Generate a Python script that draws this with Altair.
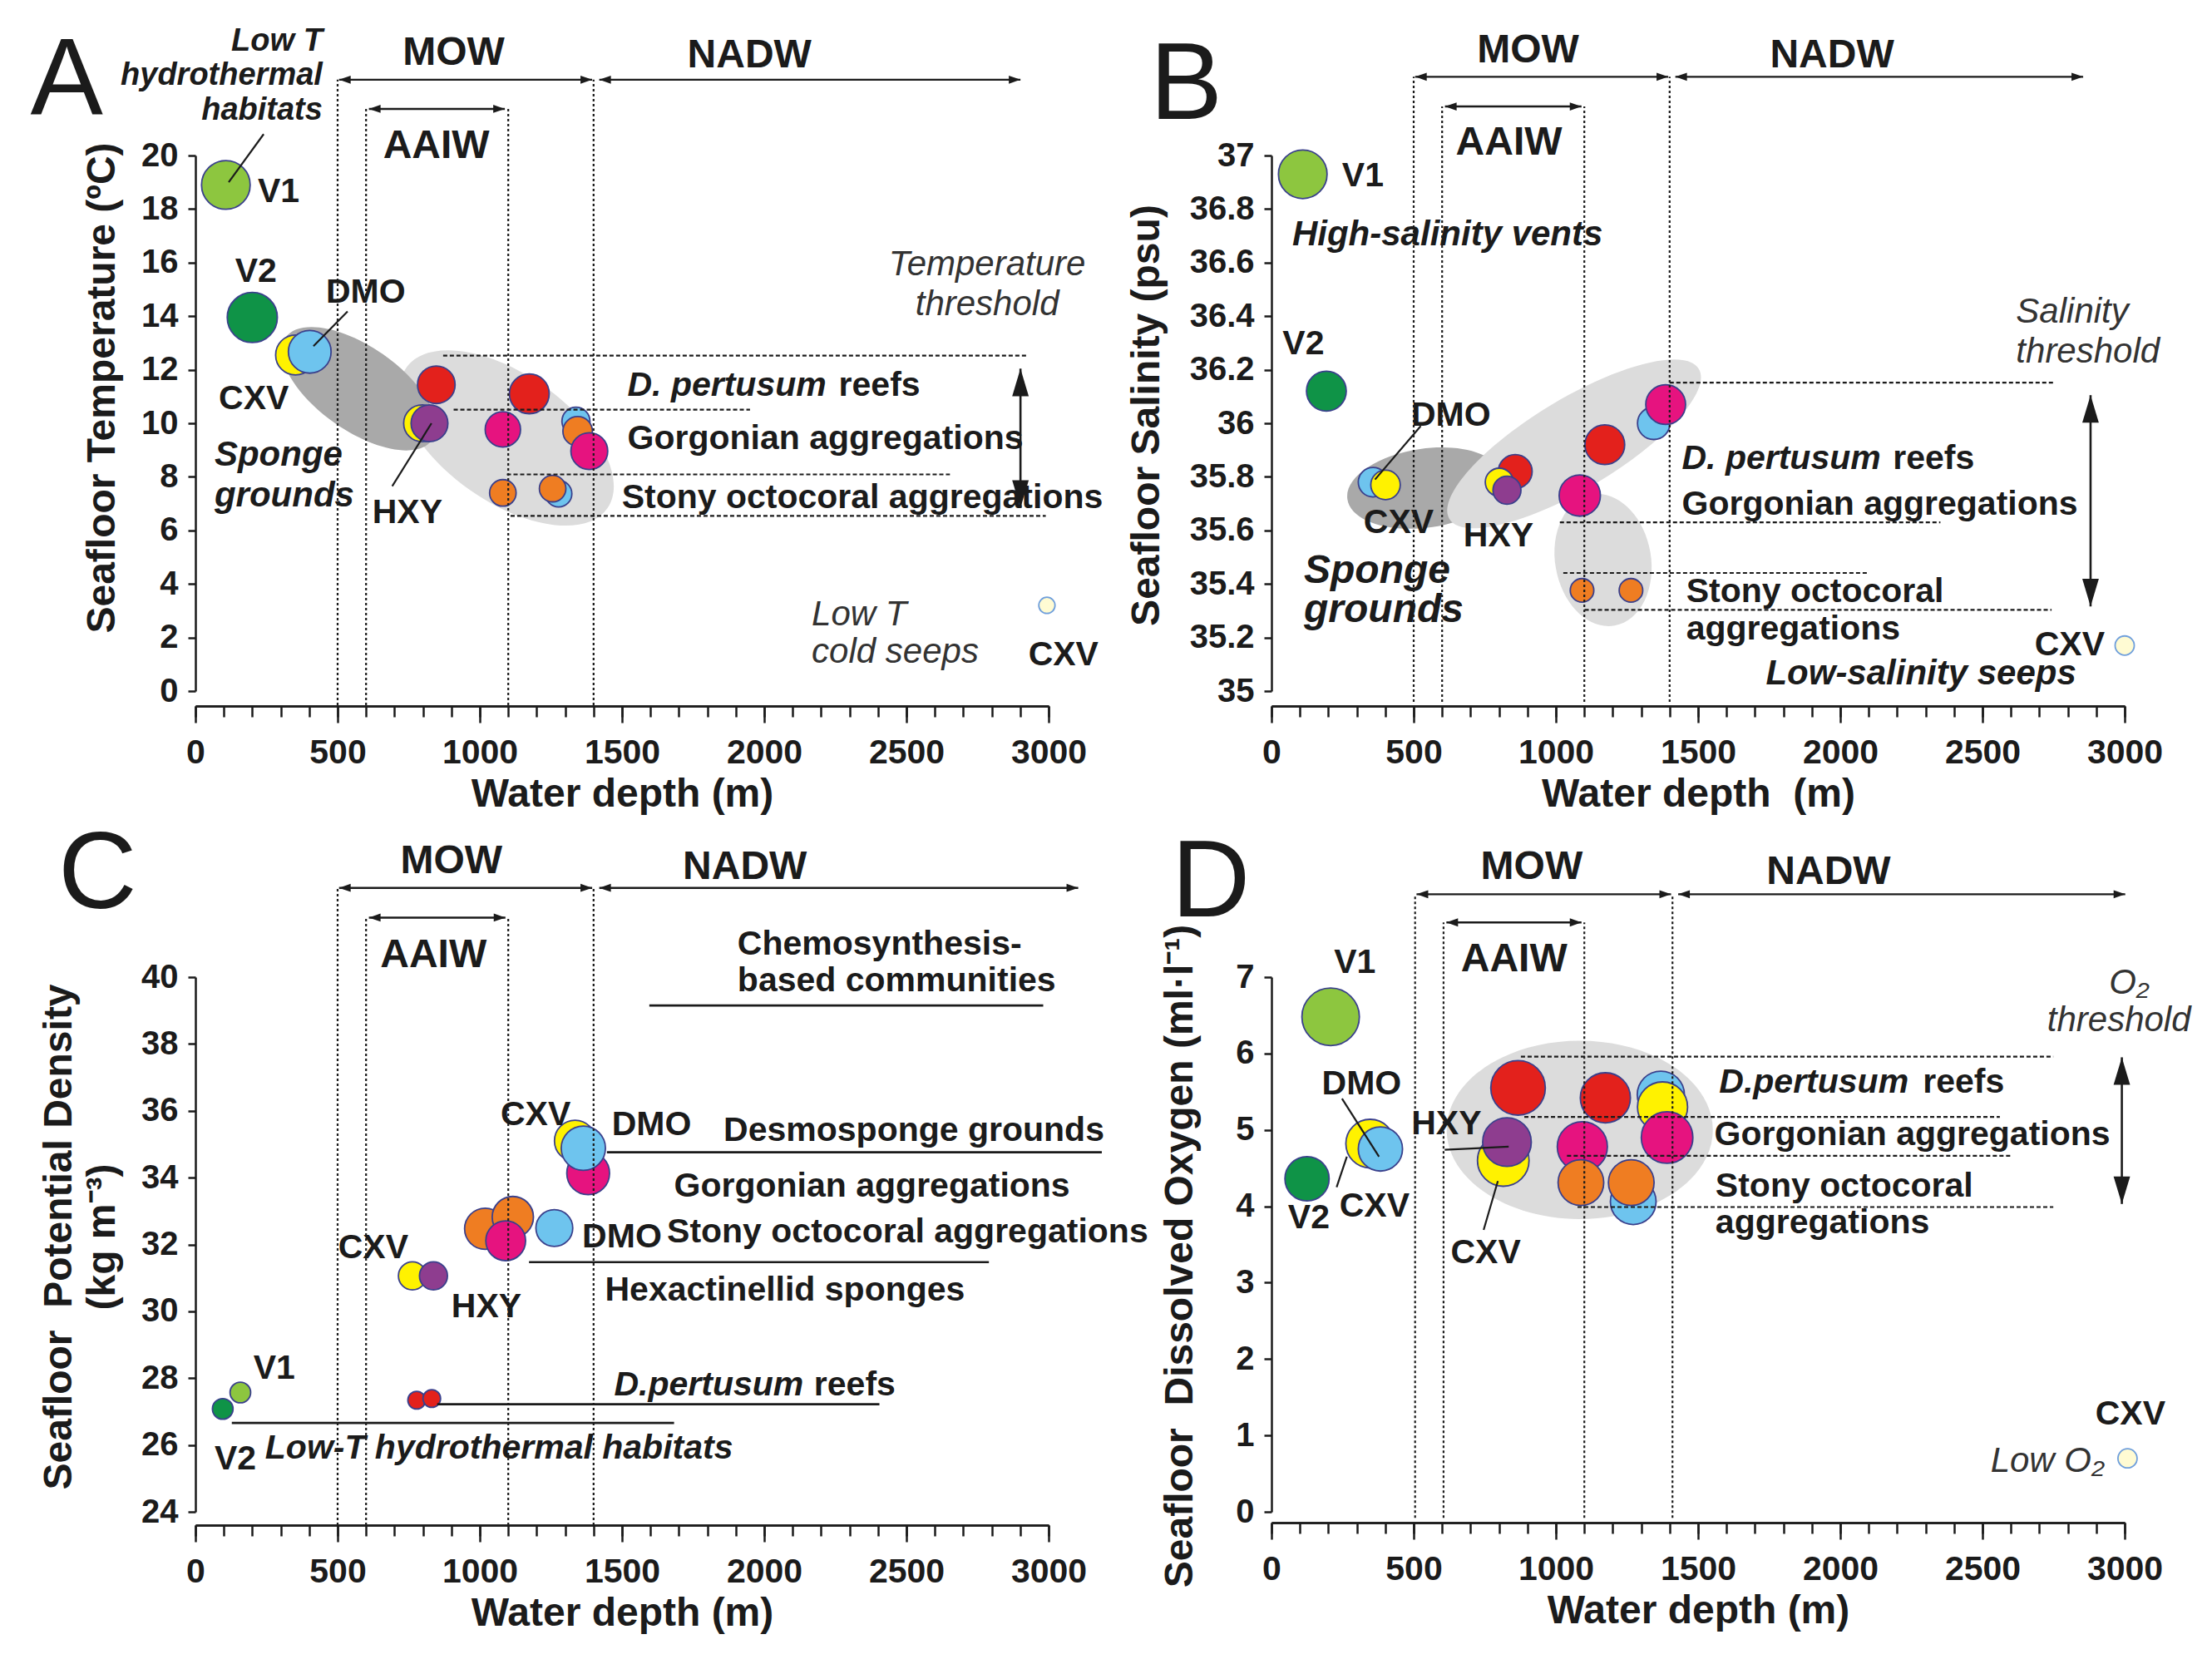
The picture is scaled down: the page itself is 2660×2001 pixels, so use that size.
import math
import altair as alt
import pandas as pd

FONT = "Liberation Sans"
INK = "#1b1b1b"
NAVY = "#3a408c"
LIGHT = "#dcdcdc"
DARK = "#a9a9a9"

RED, MAG, ORA, SEEP = "D. pertusum reefs", "Gorgonian aggregations", "Stony octocoral aggregations", "CXV cold seep"
GROUPS = ["V1", "V2", "CXV", "DMO", "HXY", RED, MAG, ORA, SEEP]
GROUP_COLORS = ["#8dc63f", "#0f9347", "#fff200", "#6ec4ee", "#8e3d8f", "#e3211c", "#e6137f", "#ef7d22", "#fffbd3"]
GROUP_STROKES = [NAVY] * 8 + ["#6f9fdc"]

X_MAJOR = [0, 500, 1000, 1500, 2000, 2500, 3000]
X_MINOR = list(range(0, 3001, 100))

# ---------------- Panel A : temperature ----------------
A_depth = [107, 200, 352, 402, 847, 797, 823, 1081, 1174, 1338, 1344, 1385, 1081, 1277, 1256, 2994]
A_temp = [18.9, 13.95, 12.55, 12.67, 11.44, 10.0, 10.0, 9.77, 11.1, 10.08, 9.70, 8.96, 7.40, 7.37, 7.56, 3.2]
A_group = ["V1", "V2", "CXV", "DMO", RED, "CXV", "HXY", MAG, RED, "DMO", ORA, MAG, ORA, "DMO", ORA, SEEP]
A_diam = [66, 68, 54, 58, 51, 50, 50, 48, 54, 38, 40, 50, 36, 36, 36, 22]
A_yticks = list(range(0, 21, 2))

# ---------------- Panel B : salinity ----------------
B_depth = [110, 193, 357, 401, 857, 801, 828, 1084, 1172, 1344, 1386, 1092, 1264, 3000]
B_salinity = [36.93, 36.12, 35.78, 35.77, 35.82, 35.78, 35.75, 35.73, 35.92, 36.00, 36.07, 35.376, 35.376, 35.17]
B_group = ["V1", "V2", "DMO", "CXV", RED, "CXV", "HXY", MAG, RED, "DMO", MAG, ORA, ORA, SEEP]
B_diam = [66, 54, 40, 40, 46, 38, 38, 56, 54, 44, 54, 32, 32, 26]
B_yticks = [35, 35.2, 35.4, 35.6, 35.8, 36, 36.2, 36.4, 36.6, 36.8, 37]

# ---------------- Panel C : potential density ----------------
C_depth = [96, 158, 778, 831, 763, 837, 1019, 1116, 1091, 1262, 1335, 1381, 1364]
C_density = [27.08, 27.57, 27.34, 27.39, 31.06, 31.06, 32.47, 32.82, 32.11, 32.49, 35.1, 34.13, 34.88]
C_group = ["V2", "V1", RED, RED, "CXV", "HXY", ORA, ORA, MAG, "DMO", "CXV", MAG, "DMO"]
C_diam = [28, 28, 24, 24, 38, 38, 56, 56, 54, 50, 56, 58, 60]
C_yticks = list(range(24, 41, 2))

# ---------------- Panel D : dissolved oxygen ----------------
D_depth = [208, 125, 347, 383, 867, 815, 828, 1174, 1369, 1375, 1391, 1093, 1272, 1088, 1265, 3010]
D_oxygen = [6.48, 4.36, 4.82, 4.75, 5.55, 4.60, 4.84, 5.42, 5.46, 5.30, 4.90, 4.78, 4.06, 4.31, 4.31, 0.70]
D_group = ["V1", "V2", "CXV", "DMO", RED, "CXV", "HXY", RED, "DMO", "CXV", MAG, MAG, "DMO", ORA, ORA, SEEP]
D_diam = [78, 60, 66, 60, 74, 70, 66, 68, 64, 68, 70, 68, 62, 62, 62, 26]
D_yticks = list(range(0, 8))

PANEL_W = 1026
H_TOP = 644
H_BOT = 643


def ellipse_path(ratio):
    k = 0.5523
    b = ratio
    kb = k * b
    return (f"M 1 0 C 1 {kb:.4f} {k} {b:.4f} 0 {b:.4f} C {-k} {b:.4f} -1 {kb:.4f} -1 0 "
            f"C -1 {-kb:.4f} {-k} {-b:.4f} 0 {-b:.4f} C {k} {-b:.4f} 1 {-kb:.4f} 1 0 Z")


ARROW_L = "M 0 0 L 2 -0.7 L 2 0.7 Z"
ARROW_R = "M 0 0 L -2 -0.7 L -2 0.7 Z"
ARROW_U = "M 0 0 L 0.6 2 L -0.6 2 Z"
ARROW_D = "M 0 0 L 0.6 -2 L -0.6 -2 Z"


def T(rows, size=41, weight="bold", style="normal", align="left", color=INK):
    return dict(rows=rows, size=size, weight=weight, style=style, align=align, color=color)


def build_panel(cfg):
    xsc = alt.Scale(domain=[0, 3000], nice=False, zero=False)
    ysc = alt.Scale(domain=cfg["ydom"], nice=False, zero=False)

    def X(f="x", axis=None):
        return alt.X(f"{f}:Q", scale=xsc, axis=axis)

    def Y(f="y", axis=None):
        return alt.Y(f"{f}:Q", scale=ysc, axis=axis)

    layers = []

    # gray habitat envelopes
    for (ex, ey, major, ratio, ang, col) in cfg.get("ellipses", []):
        df = pd.DataFrame({"x": [ex], "y": [ey]})
        layers.append(alt.Chart(df).mark_point(shape=ellipse_path(ratio), size=major * major, angle=ang,
                                               filled=True, color=col, opacity=1, strokeWidth=0)
                      .encode(x=X(), y=Y()))

    # bubbles (carry the main axes)
    n = len(cfg["depth"])
    bub = pd.DataFrame({"x": cfg["depth"], "y": cfg["value"], "g": cfg["group"],
                        "s": [math.pi * (d / 2) ** 2 for d in cfg["diam"]], "o": list(range(n))})
    x_major = alt.Axis(values=X_MAJOR, orient="bottom", offset=cfg["xoff"], tickSize=20, tickWidth=2.5,
                       tickColor=INK, domainColor=INK, domainWidth=2.5, grid=False, format="d",
                       labelFont=FONT, labelFontSize=41, labelFontWeight="bold", labelColor=INK,
                       labelPadding=16, labelFlush=False,
                       title=cfg["xtitle"], titleFont=FONT, titleFontSize=48, titleFontWeight="bold",
                       titleColor=INK, titlePadding=6)
    yaxis_kw = dict(values=cfg["yticks"], orient="left", tickSize=9, tickWidth=2.5, tickColor=INK,
                    domainColor=INK, domainWidth=2.5, grid=False,
                    labelFont=FONT, labelFontSize=40, labelFontWeight="bold", labelColor=INK, labelPadding=12,
                    title=cfg["ytitle"], titleFont=FONT, titleFontSize=48, titleFontWeight="bold",
                    titleColor=INK, titleAngle=270, titleAlign="center", titleBaseline="alphabetic",
                    titleX=cfg["titleX"], titleY=cfg["titleY"], titleLineHeight=52)
    if "yformat" in cfg:
        yaxis_kw["format"] = cfg["yformat"]
    layers.append(alt.Chart(bub).mark_point(filled=True, opacity=1, strokeWidth=1.8, shape="circle")
                  .encode(x=X(axis=x_major), y=Y(axis=alt.Axis(**yaxis_kw)),
                          color=alt.Color("g:N", scale=alt.Scale(domain=GROUPS, range=GROUP_COLORS), legend=None),
                          stroke=alt.Stroke("g:N", scale=alt.Scale(domain=GROUPS, range=GROUP_STROKES), legend=None),
                          size=alt.Size("s:Q", scale=None, legend=None),
                          order=alt.Order("o:Q")))

    # minor x ticks (second axis on the same scale)
    x_minor = alt.Axis(values=X_MINOR, orient="bottom", offset=cfg["xoff"], tickSize=13, tickWidth=2.5,
                       tickColor=INK, domainColor=INK, domainWidth=2.5, grid=False, labels=False, title="")
    vl = pd.DataFrame(cfg["vlines"], columns=["x", "y1", "y2"])
    layers.append(alt.Chart(vl).mark_rule(strokeDash=[3, 3], strokeWidth=2.2, color=INK)
                  .encode(x=X(axis=x_minor), y=Y("y1"), y2=alt.Y2("y2")))

    if cfg.get("hdash"):
        hd = pd.DataFrame(cfg["hdash"], columns=["x1", "x2", "y"])
        layers.append(alt.Chart(hd).mark_rule(strokeDash=[5, 3], strokeWidth=2.2, color=INK)
                      .encode(x=X("x1"), x2=alt.X2("x2"), y=Y()))
    if cfg.get("solid"):
        sd = pd.DataFrame(cfg["solid"], columns=["x1", "x2", "y"])
        layers.append(alt.Chart(sd).mark_rule(strokeWidth=2.6, color=INK)
                      .encode(x=X("x1"), x2=alt.X2("x2"), y=Y()))

    # horizontal water-mass arrows
    ha = pd.DataFrame(cfg["harrows"], columns=["x1", "x2", "y"])
    layers.append(alt.Chart(ha).mark_rule(strokeWidth=2.4, color=INK)
                  .encode(x=X("x1"), x2=alt.X2("x2"), y=Y()))
    heads_l = pd.DataFrame({"x": [r[0] for r in cfg["harrows"]], "y": [r[2] for r in cfg["harrows"]]})
    heads_r = pd.DataFrame({"x": [r[1] for r in cfg["harrows"]], "y": [r[2] for r in cfg["harrows"]]})
    layers.append(alt.Chart(heads_l).mark_point(shape=ARROW_L, size=196, filled=True, color=INK, opacity=1)
                  .encode(x=X(), y=Y()))
    layers.append(alt.Chart(heads_r).mark_point(shape=ARROW_R, size=196, filled=True, color=INK, opacity=1)
                  .encode(x=X(), y=Y()))

    # vertical threshold arrows
    if cfg.get("varrows"):
        va = pd.DataFrame(cfg["varrows"], columns=["x", "y1", "y2"])
        layers.append(alt.Chart(va).mark_rule(strokeWidth=2.6, color=INK)
                      .encode(x=X(), y=Y("y1"), y2=alt.Y2("y2")))
        top = pd.DataFrame({"x": [r[0] for r in cfg["varrows"]], "y": [r[2] for r in cfg["varrows"]]})
        bot = pd.DataFrame({"x": [r[0] for r in cfg["varrows"]], "y": [r[1] for r in cfg["varrows"]]})
        layers.append(alt.Chart(top).mark_point(shape=ARROW_U, size=1100, filled=True, color=INK, opacity=1)
                      .encode(x=X(), y=Y()))
        layers.append(alt.Chart(bot).mark_point(shape=ARROW_D, size=1100, filled=True, color=INK, opacity=1)
                      .encode(x=X(), y=Y()))

    # leader lines
    if cfg.get("leaders"):
        ld = pd.DataFrame(cfg["leaders"], columns=["x1", "y1", "x2", "y2"])
        layers.append(alt.Chart(ld).mark_rule(strokeWidth=2.2, color=INK)
                      .encode(x=X("x1"), y=Y("y1"), x2=alt.X2("x2"), y2=alt.Y2("y2")))

    # texts
    for t in cfg["texts"]:
        df = pd.DataFrame(t["rows"], columns=["x", "y", "t"])
        layers.append(alt.Chart(df).mark_text(font=FONT, fontSize=t["size"], fontWeight=t["weight"],
                                              fontStyle=t["style"], align=t["align"], baseline="alphabetic",
                                              color=t["color"])
                      .encode(x=X(), y=Y(), text="t:N"))

    return (alt.layer(*layers).properties(width=PANEL_W, height=cfg["height"])
            .resolve_axis(x="independent", y="independent"))


GREY_TXT = "#333333"

cfgA = dict(
    depth=A_depth, value=A_temp, group=A_group, diam=A_diam,
    ydom=[0, 20], yticks=A_yticks, ytitle="Seafloor Temperature (ºC)", titleX=-98, titleY=279,
    xtitle="Water depth (m)", xoff=18, height=H_TOP,
    ellipses=[(1095, 9.45, 295, 0.52, 35, LIGHT), (575, 11.29, 215, 0.47, 35, DARK)],
    vlines=[(500, -0.53, 22.83), (1400, -0.53, 22.83), (600, -0.53, 21.74), (1100, -0.53, 21.74)],
    harrows=[(505, 1395, 22.83), (1420, 2901, 22.83), (610, 1088, 21.74)],
    hdash=[(871, 2927, 12.53), (908, 1950, 10.51), (1095, 2653, 8.09), (1108, 2990, 6.54)],
    varrows=[(2901, 6.84, 12.04)],
    leaders=[(240, 20.8, 117, 19.0), (535, 14.18, 415, 12.88), (692, 7.65, 830, 10.0)],
    texts=[
        T([(-453, 21.52, "A")], size=131, weight="normal", align="center"),
        T([(908, 23.39, "MOW"), (1948, 23.3, "NADW"), (847, 19.9, "AAIW")], size=48, align="center"),
        T([(447, 23.92, "Low T"), (447, 22.64, "hydrothermal"), (447, 21.33, "habitats")],
          size=38, style="italic", align="right"),
        T([(219, 18.26, "V1"), (459, 14.49, "DMO"), (82, 10.54, "CXV"), (622, 6.28, "HXY"),
           (2262, 11.04, "reefs"), (1519, 9.05, "Gorgonian aggregations"),
           (1499, 6.84, "Stony octocoral aggregations")]),
        T([(213, 15.27, "V2"), (3052, 0.96, "CXV")], align="center"),
        T([(1519, 11.04, "D. pertusum")], style="italic"),
        T([(67, 8.43, "Sponge"), (67, 6.90, "grounds")], size=42, style="italic"),
        T([(2784, 15.52, "Temperature"), (2784, 14.03, "threshold")], size=42, weight="normal",
          style="italic", align="center", color=GREY_TXT),
        T([(2167, 2.46, "Low T"), (2167, 1.06, "cold seeps")], size=42, weight="normal",
          style="italic", color=GREY_TXT),
    ],
)

cfgB = dict(
    depth=B_depth, value=B_salinity, group=B_group, diam=B_diam,
    ydom=[35, 37], yticks=B_yticks, yformat=".1~f", ytitle="Seafloor Salinity (psu)", titleX=-136, titleY=312,
    xtitle="Water depth\u00a0 (m)", xoff=18, height=H_TOP,
    ellipses=[(542, 35.758, 190, 0.5, 352, DARK), (1064, 35.923, 350, 0.31, 329, LIGHT),
              (1166, 35.489, 160, 0.72, 80, LIGHT)],
    vlines=[(500, 34.96, 37.294), (1400, 34.96, 37.294), (600, 34.96, 37.183), (1100, 34.96, 37.183)],
    harrows=[(505, 1395, 37.294), (1420, 2854, 37.294), (610, 1090, 37.183)],
    hdash=[(1400, 2755, 36.152), (1014, 2352, 35.63), (1026, 2096, 35.441), (1101, 2743, 35.303)],
    varrows=[(2880, 35.316, 36.105)],
    leaders=[(525, 35.99, 364, 35.79)],
    texts=[
        T([(-300, 37.136, "B")], size=131, weight="normal", align="center"),
        T([(902, 37.347, "MOW"), (1971, 37.33, "NADW"), (835, 37.003, "AAIW")], size=48, align="center"),
        T([(248, 36.886, "V1"), (39, 36.257, "V2"), (491, 35.99, "DMO"), (324, 35.59, "CXV"),
           (675, 35.539, "HXY"), (2185, 35.828, "reefs"), (1443, 35.659, "Gorgonian aggregations"),
           (1458, 35.331, "Stony octocoral"), (1458, 35.193, "aggregations")]),
        T([(2930, 35.133, "CXV")], align="right"),
        T([(1443, 35.828, "D. pertusum")], style="italic"),
        T([(73, 36.666, "High-salinity vents")], size=42, style="italic"),
        T([(2830, 35.025, "Low-salinity seeps")], size=42, style="italic", align="right"),
        T([(114, 35.404, "Sponge"), (114, 35.257, "grounds")], size=48, style="italic"),
        T([(2618, 36.375, "Salinity"), (2618, 36.226, "threshold")], size=42, weight="normal",
          style="italic", color=GREY_TXT),
    ],
)

cfgC = dict(
    depth=C_depth, value=C_density, group=C_group, diam=C_diam,
    ydom=[24, 40], yticks=C_yticks, ytitle=["Seafloor\u00a0 Potential Density", "(kg m⁻³)"],
    titleX=-150, titleY=312, xtitle="Water depth (m)", xoff=16, height=H_BOT,
    vlines=[(500, 23.6, 42.67), (1400, 23.6, 42.67), (600, 23.6, 41.78), (1100, 23.6, 41.78)],
    harrows=[(505, 1395, 42.67), (1420, 3104, 42.67), (610, 1090, 41.78)],
    solid=[(1596, 2981, 39.15), (1447, 3187, 34.76), (1173, 2790, 31.47), (850, 2405, 27.22),
           (128, 1683, 26.66)],
    texts=[
        T([(-344, 42.07, "C")], size=131, weight="normal", align="center"),
        T([(900, 43.1, "MOW"), (1932, 42.94, "NADW"), (837, 40.3, "AAIW")], size=48, align="center"),
        T([(1906, 40.67, "Chemosynthesis-"), (1906, 39.58, "based communities"), (1073, 35.58, "CXV"),
           (1464, 35.26, "DMO"), (1857, 35.1, "Desmosponge grounds"), (1683, 33.43, "Gorgonian aggregations"),
           (1360, 31.91, "DMO"), (1658, 32.06, "Stony octocoral aggregations"),
           (1440, 30.31, "Hexactinellid sponges"), (502, 31.59, "CXV"), (900, 29.83, "HXY"),
           (204, 27.99, "V1"), (67, 25.27, "V2"), (2175, 27.48, "reefs")]),
        T([(1472, 27.48, "D.pertusum"), (245, 25.6, "Low-T hydrothermal habitats")], style="italic"),
    ],
)

cfgD = dict(
    depth=D_depth, value=D_oxygen, group=D_group, diam=D_diam,
    ydom=[0, 7], yticks=D_yticks, ytitle="Seafloor\u00a0 Dissolved Oxygen (ml·l⁻¹)", titleX=-96, titleY=335,
    xtitle="Water depth (m)", xoff=13, height=H_BOT,
    ellipses=[(1084, 5.0, 320, 0.67, 0, LIGHT)],
    vlines=[(505, -0.08, 8.085), (1410, -0.08, 8.085), (605, -0.08, 7.716), (1100, -0.08, 7.716)],
    harrows=[(510, 1405, 8.085), (1430, 3002, 8.085), (615, 1090, 7.716)],
    hdash=[(877, 2749, 5.96), (889, 2561, 5.17), (1039, 2600, 4.66), (1076, 2749, 3.99)],
    varrows=[(2990, 4.03, 5.95)],
    leaders=[(248, 5.41, 378, 4.65), (229, 4.25, 265, 4.65), (609, 4.74, 834, 4.78), (746, 3.69, 796, 4.33)],
    texts=[
        T([(-213, 7.79, "D")], size=131, weight="normal", align="center"),
        T([(915, 8.29, "MOW"), (1959, 8.22, "NADW"), (853, 7.08, "AAIW")], size=48, align="center"),
        T([(293, 7.05, "V1"), (3020, 1.14, "CXV")], align="center"),
        T([(177, 5.46, "DMO"), (239, 3.87, "CXV"), (58, 3.71, "V2"), (492, 4.94, "HXY"), (630, 3.26, "CXV"),
           (2290, 5.49, "reefs"), (1557, 4.80, "Gorgonian aggregations"), (1561, 4.13, "Stony octocoral"),
           (1561, 3.65, "aggregations")]),
        T([(1574, 5.49, "D.pertusum")], style="italic"),
        T([(3016, 6.78, "O₂"), (2980, 6.29, "threshold")], size=42, weight="normal", style="italic",
          align="center", color=GREY_TXT),
        T([(2930, 0.52, "Low O₂")], size=42, weight="normal", style="italic", align="right", color=GREY_TXT),
    ],
)

chart = alt.concat(
    build_panel(cfgA), build_panel(cfgB), build_panel(cfgC), build_panel(cfgD),
    columns=2, spacing={"row": 344, "column": 268}, bounds="flush",
).properties(
    padding={"left": 28, "top": 22, "right": 10, "bottom": 10}, background="white"
).configure_view(stroke=None)

chart.save("out.html", embed_options={"renderer": "svg", "actions": False})
